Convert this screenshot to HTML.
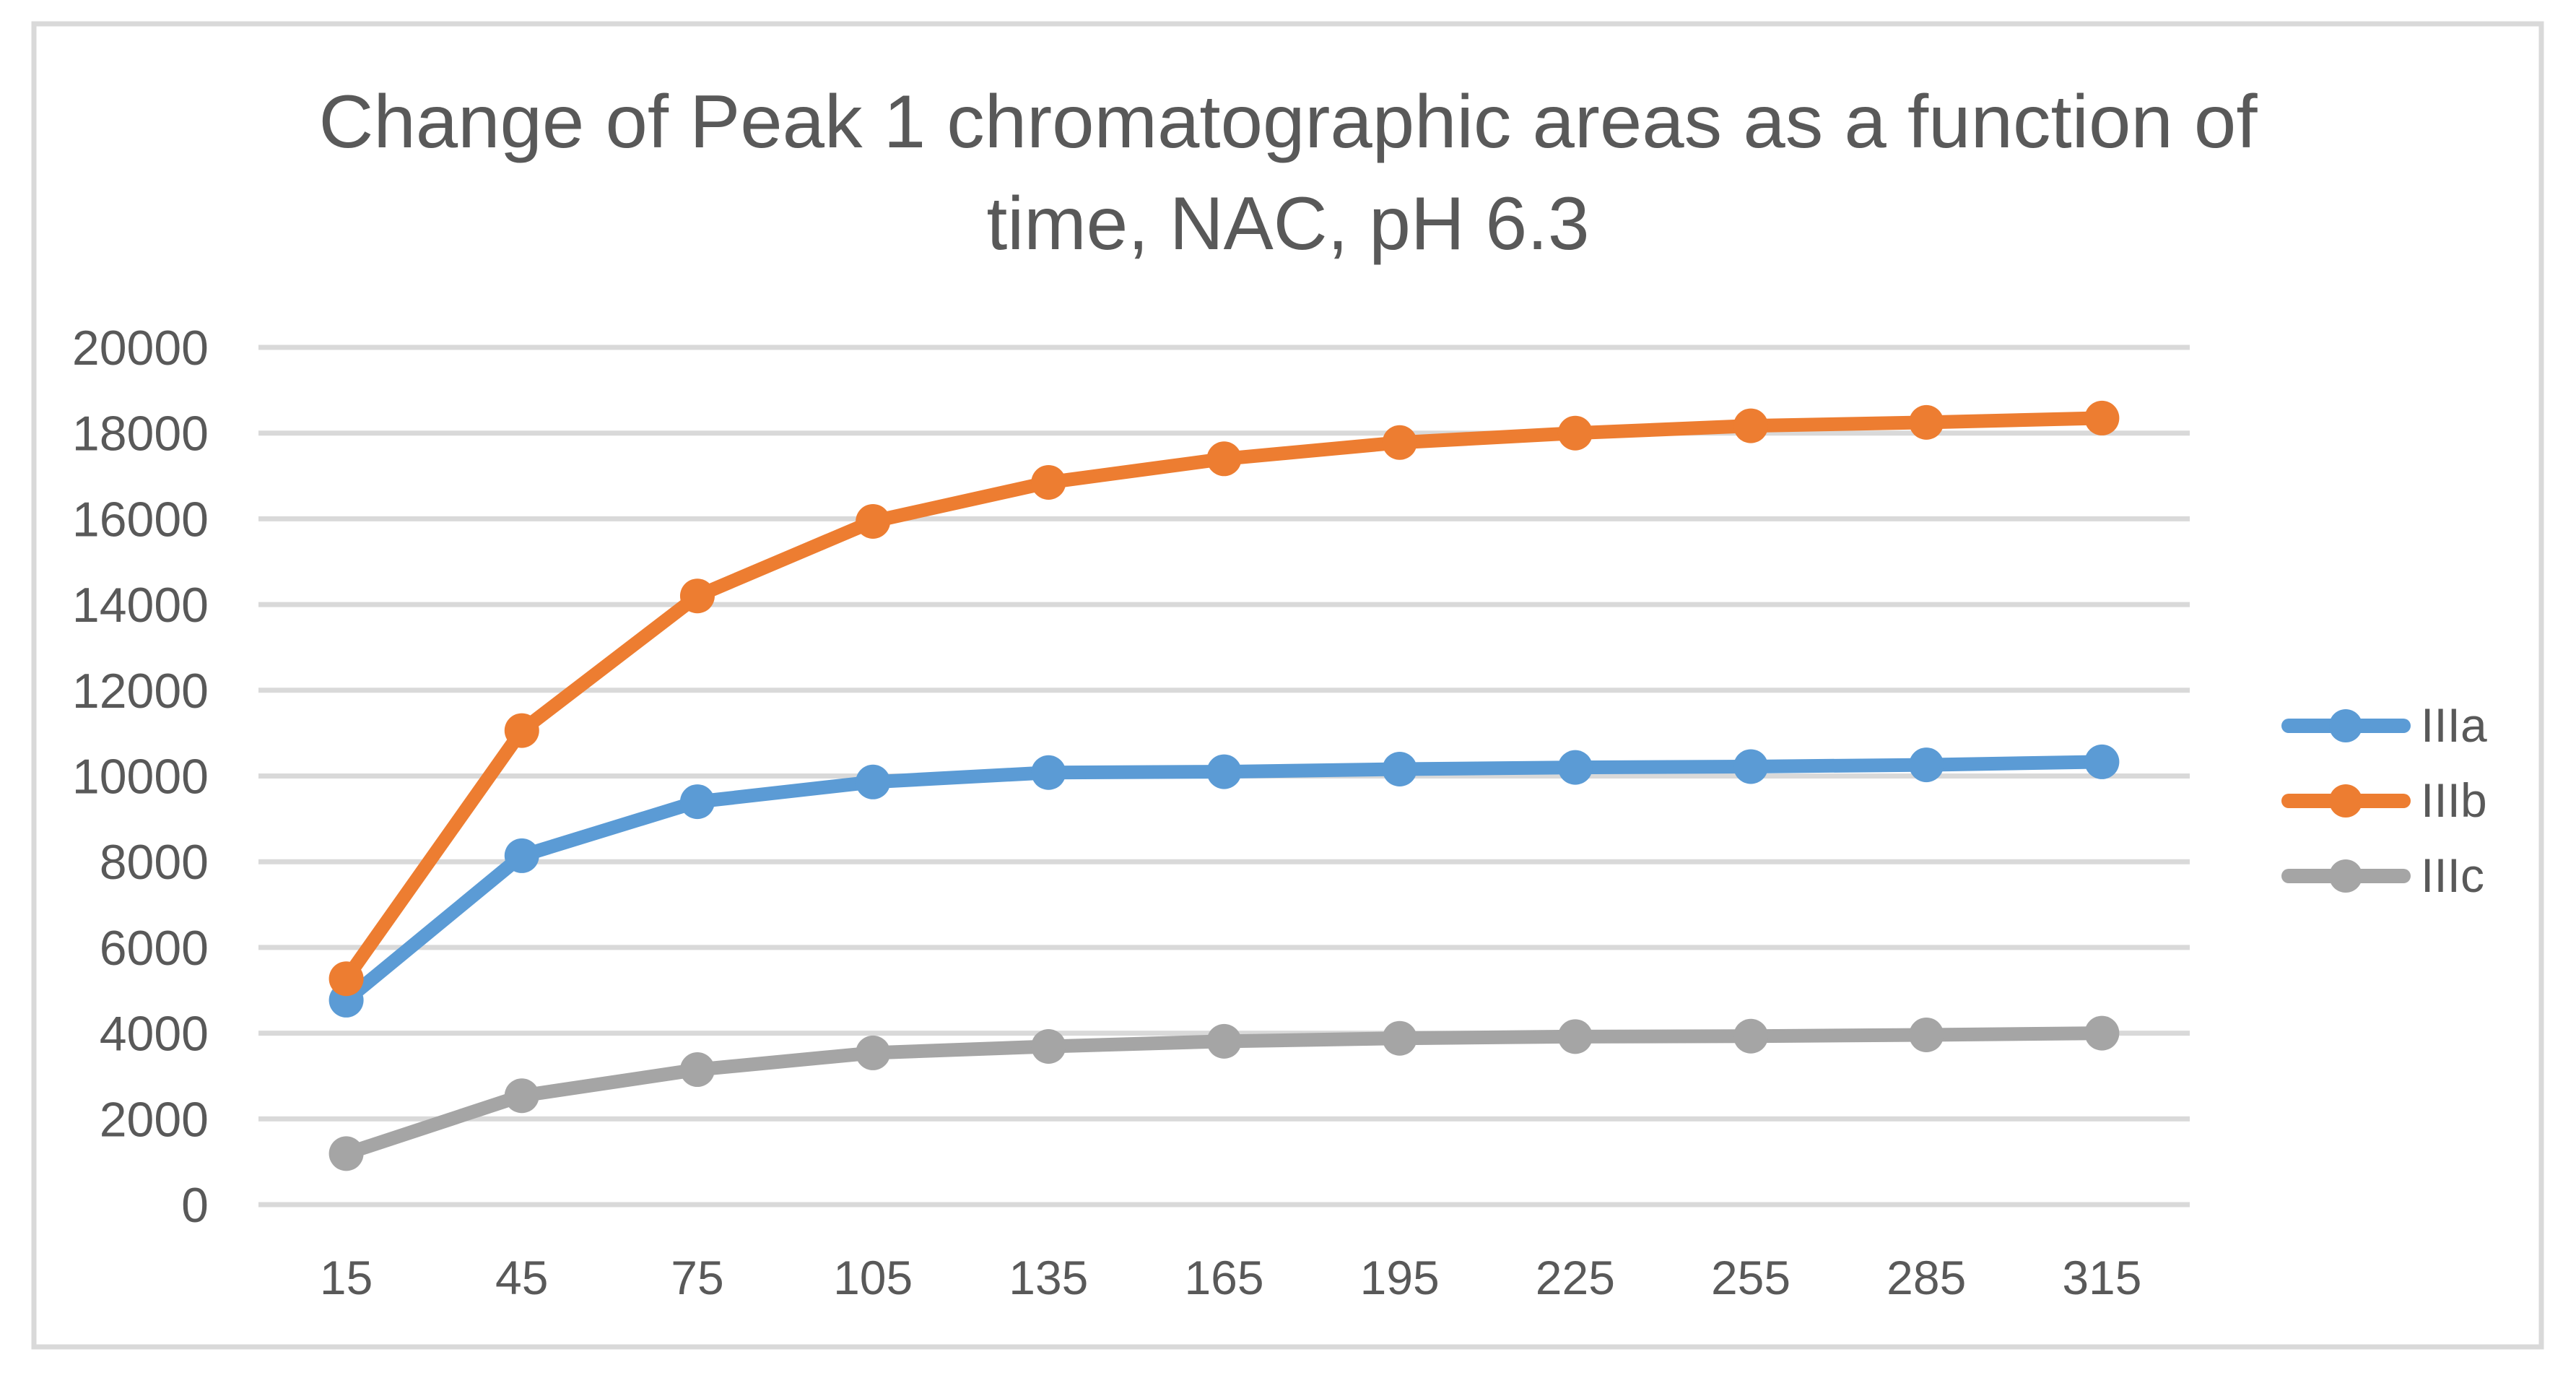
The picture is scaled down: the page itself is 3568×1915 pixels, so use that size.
<!DOCTYPE html>
<html><head><meta charset="utf-8"><style>
html,body{margin:0;padding:0;background:#fff;}
svg{display:block;font-family:"Liberation Sans",sans-serif;}
</style></head><body>
<svg id="chart" width="3568" height="1915" viewBox="0 0 3568 1915">
<rect x="47" y="33" width="3473" height="1832" fill="#fff" stroke="#d9d9d9" stroke-width="7"/>
<g fill="#595959" font-size="104" text-anchor="middle">
<text x="1784" y="204" textLength="2685" lengthAdjust="spacingAndGlyphs">Change of Peak 1 chromatographic areas as a function of</text>
<text x="1784" y="345" textLength="835" lengthAdjust="spacingAndGlyphs">time, NAC, pH 6.3</text>
</g>
<g id="grid"></g>
<g id="yticks"></g>
<g id="xticks"></g>
<g id="series"></g>
<g id="legend"></g>
</svg>
<script>
const categories = [15,45,75,105,135,165,195,225,255,285,315];
const yTicks = [0,2000,4000,6000,8000,10000,12000,14000,16000,18000,20000];
const seriesNames = ["IIIa","IIIb","IIIc"];
const seriesColors = ["#5b9bd5","#ed7d31","#a5a5a5"];
const valuesIIIa = [4770,8140,9400,9860,10080,10100,10160,10200,10220,10260,10330];
const valuesIIIb = [5270,11060,14200,15940,16850,17400,17780,18000,18170,18250,18350];
const valuesIIIc = [1190,2540,3150,3540,3690,3810,3880,3920,3930,3960,4000];
const allValues = [valuesIIIa, valuesIIIb, valuesIIIc];

const NS = "http://www.w3.org/2000/svg";
const L = 358, R = 3033, T = 481, B = 1668, YMAX = 20000;
const bandW = (R - L) / categories.length;
function xPos(i){ return L + bandW * (i + 0.5); }
function yPos(v){ return B - (v / YMAX) * (B - T); }
function mk(tag, attrs, parent){ const e = document.createElementNS(NS, tag); for (const k in attrs) e.setAttribute(k, attrs[k]); parent.appendChild(e); return e; }

const grid = document.getElementById('grid');
const yt = document.getElementById('yticks');
yTicks.forEach(v => {
  const ln = mk('line', {x1:L, x2:R, y1:yPos(v), y2:yPos(v), stroke:'#d9d9d9', 'stroke-width':7}, grid);
  
  
  const t = mk('text', {x:289, y:yPos(v)+24, 'text-anchor':'end', 'font-size':68, fill:'#595959'}, yt);
  t.textContent = v;
  
  
});
const xt = document.getElementById('xticks');
categories.forEach((c, i) => {
  const t = mk('text', {x:xPos(i), y:1792, 'text-anchor':'middle', 'font-size':66, fill:'#595959'}, xt);
  t.textContent = c;
  
  
});
const sg = document.getElementById('series');
allValues.forEach((vals, s) => {
  const g = mk('g', {}, sg);
  
  
  const pts = vals.map((v, i) => xPos(i) + ',' + yPos(v)).join(' ');
  const pl = mk('polyline', {points:pts, fill:'none', stroke:seriesColors[s], 'stroke-width':19, 'stroke-linejoin':'round', 'stroke-linecap':'round'}, g);
  
  
  vals.forEach((v, i) => {
    const c = mk('circle', {cx:xPos(i), cy:yPos(v), r:24, fill:seriesColors[s]}, g);
    
    
  });
});
const lg = document.getElementById('legend');


seriesNames.forEach((n, s) => {
  const y = 1005 + s * 104;
  const g = mk('g', {}, lg);
  
  
  mk('line', {x1:3170, x2:3329, y1:y, y2:y, stroke:seriesColors[s], 'stroke-width':20, 'stroke-linecap':'round'}, g);
  mk('circle', {cx:3249, cy:y, r:23, fill:seriesColors[s]}, g);
  const t = mk('text', {x:3353, y:y+22, 'font-size':66, fill:'#595959'}, g);
  t.textContent = n;
});
</script>
</body></html>
